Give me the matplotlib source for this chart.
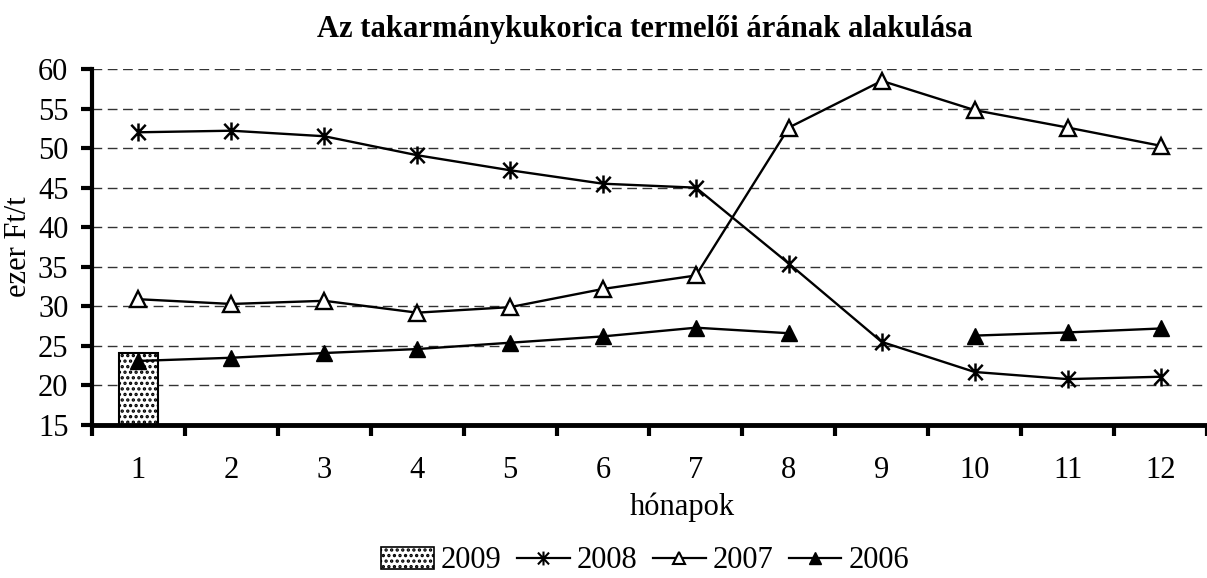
import numpy as np
import matplotlib
matplotlib.use("Agg")
import matplotlib.pyplot as plt
from matplotlib.path import Path
from matplotlib.patches import Patch
from matplotlib.lines import Line2D

plt.rcParams['font.family'] = ['Liberation Serif', 'DejaVu Serif']
plt.rcParams['hatch.linewidth'] = 1.6

# data (ezer Ft/t)
months = np.arange(1, 13)
month_labels = [str(m) for m in months]
y2009 = [24.1]  # only January
y2008 = [52.0, 52.2, 51.5, 49.1, 47.2, 45.5, 45.0, 35.4, 25.5, 21.7, 20.8, 21.1]
y2007 = [30.9, 30.3, 30.7, 29.2, 29.9, 32.2, 33.9, 52.6, 58.5, 54.8, 52.6, 50.3]
y2006 = [23.1, 23.5, 24.1, 24.6, 25.4, 26.2, 27.3, 26.6, np.nan, 26.3, 26.7, 27.2]

# asterisk marker: vertical bar plus an X
star = Path([(0, -1), (0, 1), (-0.8, -0.85), (0.8, 0.85), (-0.8, 0.85), (0.8, -0.85)],
            [Path.MOVETO, Path.LINETO, Path.MOVETO, Path.LINETO, Path.MOVETO, Path.LINETO])

fig = plt.figure(figsize=(12.07, 5.78), dpi=100)
ax = fig.add_axes([92 / 1207, 153 / 578, 1 - 92 / 1207, 356 / 578])

ax.bar([1], y2009, width=0.42, bottom=0, color='white', edgecolor='black',
       hatch='...', linewidth=1.5, zorder=2)

line_kw = dict(color='black', linewidth=1.7, zorder=3)
ax.plot(months, y2008, marker=star, markersize=13, markeredgewidth=1.8, **line_kw)
ax.plot(months, y2007, marker='^', markersize=12, markerfacecolor='white',
        markeredgecolor='black', markeredgewidth=1.7, **line_kw)
ax.plot(months, y2006, marker='^', markersize=12, markerfacecolor='black',
        markeredgecolor='black', **line_kw)

ax.set_xlim(0.5, 12.5)
ax.set_ylim(15, 60)
ax.set_yticks(np.arange(15, 61, 5))
ax.set_xticks(months)
ax.set_xticklabels(month_labels)
ax.set_xticks(np.arange(0.5, 12.6, 1), minor=True)
ax.tick_params(axis='x', which='major', length=0, pad=22, labelsize=22)
ax.tick_params(axis='x', which='minor', length=8, width=3, direction='out')
ax.tick_params(axis='y', length=8, width=3, direction='out', pad=9, labelsize=22)

for y in range(20, 61, 5):
    ax.axhline(y, color='#333333', linewidth=1, linestyle=(0, (7, 4)), zorder=1)

ax.spines['top'].set_visible(False)
ax.spines['right'].set_visible(False)
ax.spines['left'].set_linewidth(3)
ax.spines['bottom'].set_linewidth(3.5)

ax.set_ylabel('ezer Ft/t', fontsize=22)
ax.yaxis.set_label_coords(-0.053, 0.5)
ax.set_xlabel('hónapok', fontsize=22)
ax.xaxis.set_label_coords((682 - 92) / 1115, -0.19)

fig.text(645 / 1207, 1 - 30 / 578, 'Az takarmánykukorica termelői árának alakulása',
         ha='center', va='center', fontsize=22, fontweight='bold')

handles = [
    Patch(facecolor='white', edgecolor='black', hatch='...', linewidth=1.2),
    Line2D([], [], marker=star, markersize=10, markeredgewidth=1.5, color='black', linewidth=1.6),
    Line2D([], [], marker='^', markersize=9, markerfacecolor='white', markeredgecolor='black',
           markeredgewidth=1.5, color='black', linewidth=1.6),
    Line2D([], [], marker='^', markersize=9, markerfacecolor='black', color='black', linewidth=1.6),
]
fig.legend(handles, ['2009', '2008', '2007', '2006'], loc='center',
           bbox_to_anchor=(645 / 1207, 1 - 561 / 578), ncol=4, frameon=False,
           fontsize=22, handlelength=1.73, handletextpad=0.23, columnspacing=0.5,
           handleheight=0.75)

fig.savefig('out.png', dpi=100)
